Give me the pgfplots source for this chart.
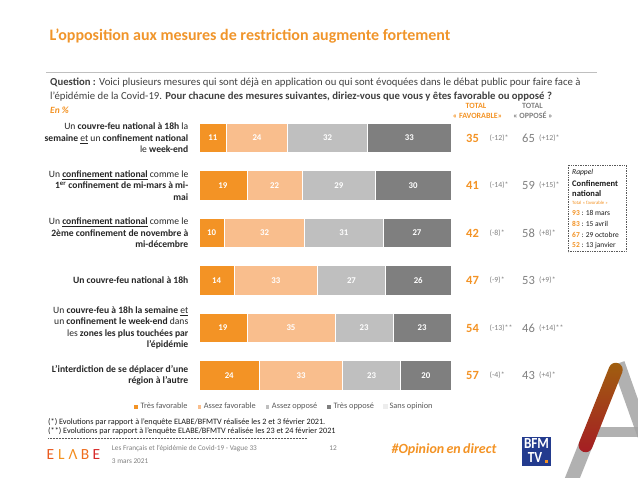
\documentclass[border=0pt]{standalone}
\usepackage{fontspec}
\setmainfont{Carlito}
\usepackage{pgfplots}
\pgfplotsset{compat=1.18}
\usepackage{pgfplotstable}
\usepackage{graphicx}

\definecolor{cTF}{HTML}{F39325}
\definecolor{cAF}{HTML}{F9BE8D}
\definecolor{cAO}{HTML}{BFBFBF}
\definecolor{cTO}{HTML}{7F7F7F}
\definecolor{cSO}{HTML}{EDEDED}
\definecolor{ttl}{HTML}{F0952B}
\definecolor{txt}{HTML}{404040}
\definecolor{lg}{HTML}{595959}
\definecolor{gtot}{HTML}{7F7F7F}
\definecolor{otot}{HTML}{F39325}
\definecolor{bfm}{HTML}{233B8E}
\definecolor{agray}{HTML}{A3A3A3}

\pgfplotstableread{
row tf af ao to so
0 11 24 32 33 0
1 19 22 29 30 0
2 10 32 31 27 0
3 14 33 27 26 0
4 19 35 23 23 0
5 24 33 23 20 0
}\mesures

\pgfplotsset{
  myframe/.style={
    at={(199pt,-114.25pt)}, anchor=north west,
    scale only axis, width=252pt, height=285pt,
    xmin=0, xmax=100, ymin=-0.5, ymax=5.5, y dir=reverse,
    hide axis, clip=false,
    /pgf/number format/assume math mode=true,
  },
}

\begin{document}
\begin{tikzpicture}
\path[use as bounding box] (0,0) rectangle (638pt,-478pt);

% A logo (background)
\begin{scope}[x=1pt,y=-1pt]
\draw[agray, opacity=0.85, line width=13pt] (618.3,363.3) -- (664,492);
\draw[agray, opacity=0.85, line width=14pt] (590,434) -- (560,509);
\draw[agray, opacity=0.85, line width=10pt] (586,431.7) -- (645,431.7);
\shade[rounded corners=6.9pt, top color={rgb,255:red,160;green,96;blue,15}, middle color={rgb,255:red,242;green,138;blue,30}, bottom color={rgb,255:red,165;green,28;blue,36}]
  (611.8,360.7) -- (624.8,365.9) -- (589.5,454.3) -- (576.5,449.1) -- cycle;
\end{scope}

\begin{axis}[
  myframe,
  xbar stacked, bar width=29.5pt,
  legend columns=5,
  legend style={draw=none, fill=none, at={(axis description cs:0.337,-0.026)}, anchor=center,
    font=\fontsize{8.3}{10}\selectfont\color{lg},
    /tikz/every even column/.append style={column sep=7pt}, inner sep=0pt},
  legend image code/.code={\fill[#1] (0pt,-2.3pt) rectangle (4.6pt,2.3pt);},
  seg/.style={draw=white, line width=0.7pt},
]
\addplot[seg, fill=cTF] table[x=tf, y=row] {\mesures};
\addlegendentry{Très favorable}
\addplot[seg, fill=cAF] table[x=af, y=row] {\mesures};
\addlegendentry{Assez favorable}
\addplot[seg, fill=cAO] table[x=ao, y=row] {\mesures};
\addlegendentry{Assez opposé}
\addplot[seg, fill=cTO] table[x=to, y=row] {\mesures};
\addlegendentry{Très opposé}
\addplot[fill=cSO, draw=none] table[x=so, y=row] {\mesures};
\addlegendentry{Sans opinion}
\end{axis}

% value labels centred in each segment
\begin{axis}[
  myframe,
  lbl/.style={draw=none, mark=none, nodes near coords, point meta=explicit,
    every node near coord/.style={anchor=center, font=\bfseries\fontsize{8.8}{10}\selectfont, text=white}},
]
\addplot[lbl] table[x expr={\thisrow{tf}/2}, y=row, meta=tf] {\mesures};
\addplot[lbl] table[x expr={\thisrow{tf}+\thisrow{af}/2}, y=row, meta=af] {\mesures};
\addplot[lbl] table[x expr={\thisrow{tf}+\thisrow{af}+\thisrow{ao}/2}, y=row, meta=ao] {\mesures};
\addplot[lbl] table[x expr={\thisrow{tf}+\thisrow{af}+\thisrow{ao}+\thisrow{to}/2}, y=row, meta=to] {\mesures};
\end{axis}

\begin{scope}[x=1pt,y=-1pt, every node/.style={inner sep=0pt}]
% title
\node[anchor=west, text=ttl, font=\bfseries\fontsize{16}{19}\selectfont] at (49.5,36) {L’opposition aux mesures de restriction augmente fortement};
\draw[cAO, line width=0.9pt] (46,72.3) -- (597,72.3);
% question
\node[anchor=base west, text=txt, font=\fontsize{10.7}{12}\selectfont] at (50,85.2) {\textbf{Question :} Voici plusieurs mesures qui sont déjà en application ou qui sont évoquées dans le débat public pour faire face à};
\node[anchor=base west, text=txt, font=\fontsize{10.7}{12}\selectfont] at (50,99.5) {l’épidémie de la Covid-19. \textbf{Pour chacune des mesures suivantes, diriez-vous que vous y êtes favorable ou opposé ?}};
\node[anchor=base west, text=otot, font=\itshape\bfseries\fontsize{9.5}{11}\selectfont] at (50,113.2) {En \%};
% headers
\node[anchor=base, text=otot, font=\bfseries\fontsize{8}{10}\selectfont] at (476,108.6) {TOTAL};
\node[anchor=base, text=otot, font=\bfseries\fontsize{8}{10}\selectfont] at (477.5,118.6) {« FAVORABLE»};
\node[anchor=base, text=gtot, font=\bfseries\fontsize{8}{10}\selectfont] at (532.5,108.6) {TOTAL};
\node[anchor=base, text=gtot, font=\bfseries\fontsize{8}{10}\selectfont] at (533,118.6) {« OPPOSÉ »};
% row labels
\begin{scope}[every node/.style={anchor=east, align=right, inner sep=0pt, text={rgb,255:red,38;green,38;blue,38}, font=\fontsize{9.6}{11.5}\selectfont}]
\node at (188.5,138) {Un \textbf{couvre-feu national à 18h} la\\ \textbf{semaine} \underline{et} un \textbf{confinement national}\\ le \textbf{week-end}};
\node at (188.5,185.5) {Un \underline{\textbf{confinement national}} comme le\\ \textbf{1\textsuperscript{er} confinement de mi-mars à mi-}\\ \textbf{mai}};
\node at (188.5,233) {Un \underline{\textbf{confinement national}} comme le\\ \textbf{2ème confinement de novembre à}\\ \textbf{mi-décembre}};
\node at (188.5,280.5) {\textbf{Un couvre-feu national à 18h}};
\node at (188.5,328) {Un \textbf{couvre-feu à 18h la semaine} \underline{et}\\ un \textbf{confinement le week-end} dans\\ les \textbf{zones les plus touchées par}\\ \textbf{l’épidémie}};
\node at (188.5,375.5) {\textbf{L’interdiction de se déplacer d’une}\\ \textbf{région à l’autre}};
\end{scope}
% totals
\foreach \y/\vf/\vdf/\vo/\vdo in {138/35/(-12)*/65/(+12)*, 185.5/41/(-14)*/59/(+15)*, 233/42/(-8)*/58/(+8)*, 280.5/47/(-9)*/53/(+9)*, 328/54/(-13)**/46/(+14)**, 375.5/57/(-4)*/43/(+4)*}{
  \node[anchor=center, text=otot, font=\bfseries\fontsize{12.5}{14}\selectfont] at (472.5,\y) {\vf};
  \node[anchor=west, text=gtot, font=\fontsize{7.8}{9}\selectfont] at (489.5,\y) {\vdf};
  \node[anchor=center, text=gtot, font=\fontsize{12.5}{14}\selectfont] at (528.5,\y) {\vo};
  \node[anchor=west, text=gtot, font=\fontsize{7.8}{9}\selectfont] at (539,\y) {\vdo};
}
% rappel box
\filldraw[fill=white, draw=lg, densely dotted, line width=0.7pt] (568,165) rectangle (626,251.7);
\begin{scope}[every node/.style={anchor=west, inner sep=0pt, text={rgb,255:red,26;green,26;blue,26}}]
\node[font=\itshape\fontsize{7.5}{9}\selectfont] at (572,172.7) {Rappel};
\node[font=\bfseries\fontsize{8.5}{10}\selectfont] at (572,183.3) {Confinement};
\node[font=\bfseries\fontsize{8.5}{10}\selectfont] at (572,194) {national};
\node[font=\fontsize{4.8}{6}\selectfont, text=otot] at (572,202.7) {Total « favorable »};
\node[font=\fontsize{7.5}{9}\selectfont] at (572,213.3) {\textcolor{otot}{\textbf{93}} : 18 mars};
\node[font=\fontsize{7.5}{9}\selectfont] at (572,224) {\textcolor{otot}{\textbf{83}} : 15 avril};
\node[font=\fontsize{7.5}{9}\selectfont] at (572,234.7) {\textcolor{otot}{\textbf{67}} : 29 octobre};
\node[font=\fontsize{7.5}{9}\selectfont] at (572,245.3) {\textcolor{otot}{\textbf{52}} : 13 janvier};
\end{scope}
% footnotes
\node[anchor=base west, text={rgb,255:red,26;green,26;blue,26}, font=\fontsize{8.2}{9}\selectfont] at (48,424.3) {(*) Evolutions par rapport à l’enquête ELABE/BFMTV réalisée les 2 et 3 février 2021.};
\node[anchor=base west, text={rgb,255:red,26;green,26;blue,26}, font=\fontsize{8.2}{9}\selectfont] at (48,433.7) {(**) Evolutions par rapport à l’enquête ELABE/BFMTV réalisée les 23 et 24 février 2021};
\draw[lg, densely dotted, line width=0.5pt] (48,438.3) -- (307,438.3);
% footer
\begin{scope}[every node/.style={anchor=center, inner sep=0pt, font=\fontsize{15.5}{16}\selectfont}]
\node[text={rgb,255:red,233;green,90;blue,30}] at (50.5,454.3) {E};
\node[text={rgb,255:red,243;green,146;blue,30}] at (61.5,454.3) {L};
\node[text={rgb,255:red,243;green,140;blue,30}] at (73,454.3) {Λ};
\node[text={rgb,255:red,238;green,110;blue,30}] at (85,454.3) {B};
\node[text={rgb,255:red,215;green,40;blue,40}] at (96.5,454.3) {E};
\end{scope}
\node[anchor=base west, text=gtot, font=\fontsize{7.3}{8}\selectfont] at (111.7,450.8) {Les Français et l’épidémie de Covid-19 - Vague 33};
\node[anchor=base west, text=gtot, font=\fontsize{7.3}{8}\selectfont] at (111.7,463.5) {3 mars 2021};
\node[anchor=base, text=gtot, font=\fontsize{7.3}{8}\selectfont] at (333,450.8) {12};
\node[anchor=center, text=otot, font=\bfseries\itshape\fontsize{14}{16}\selectfont] at (444,450) {\#Opinion\,en\,direct};
% BFMTV logo
\fill[bfm] (522,437) rectangle (551,466);
\node[text=white, font=\bfseries\fontsize{11}{11}\selectfont] at (536.5,443.6) {\scalebox{1.2}[1.4]{BFM}};
\node[text=white, font=\bfseries\fontsize{11}{11}\selectfont] at (535,458) {\scalebox{1.2}[1.4]{TV}};
\fill[cTF] (544.5,460) rectangle (547.5,463);
\end{scope}
\end{tikzpicture}
\end{document}
